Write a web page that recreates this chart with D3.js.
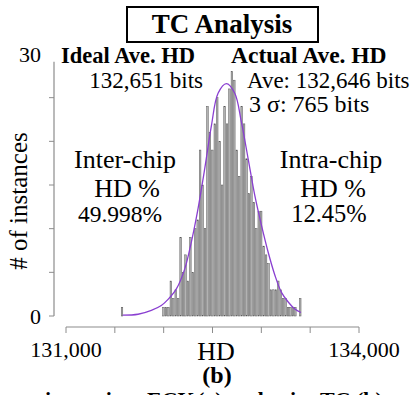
<!DOCTYPE html>
<html>
<head>
<meta charset="utf-8">
<script src="https://cdn.jsdelivr.net/npm/d3@7"></script>
<style>
  body { margin: 0; background: #fff; }
  svg { display: block; font-family: "Liberation Serif", "Times New Roman", serif; }
</style>
</head>
<body>
<svg id="chart" width="415" height="395"></svg>
<script>
// histogram: 25-bit bins, first bin centred on 131,575
const binStart = 131562.5
const binWidth = 25
const counts = [
  1, 0, 0, 0, 0, 0, 0, 0, 0, 0, 0, 0, 0, 0, 0, 0, 0,
  1, 1, 1, 4, 2, 3, 2, 9, 5, 7, 4, 9, 5, 10, 11, 19, 15, 10,
  24, 21, 19, 22, 25, 20, 15, 24, 22, 26, 28, 27, 19, 16, 24, 22,
  18, 14, 16, 13, 10, 12, 12, 8, 7, 6, 3, 3, 3, 4, 3, 2, 2,
  1, 1, 1, 1, 0, 2
]

// fitted curve
const fitHD = [131581, 131738, 131874, 131976, 132045, 132130, 132216, 132284,
  132352, 132421, 132489, 132557, 132642, 132728, 132796, 132865, 132933,
  133001, 133070, 133138, 133206, 133275, 133343, 133405]
const fitCount = [0.1, 0.2, 0.65, 1.2, 1.9, 3.1, 5.4, 8.5, 12.3, 16.9, 21.8,
  25.5, 26.6, 25.5, 22.2, 18, 13.8, 10.4, 7.3, 4.7, 2.7, 1.6, 0.8, 0.4]

const xTicks = [131000, 131500, 132000, 132500, 133000, 133500, 134000]
const yTicks = [0, 5, 10, 15, 20, 25]

const svg = d3.select('#chart')

const x = d3.scaleLinear().domain([131000, 134000]).range([66, 359])
const y = d3.scaleLinear().domain([0, 30]).range([316, 54])

// title box
svg.append('rect')
  .attr('x', 127).attr('y', 7).attr('width', 191).attr('height', 35)
  .attr('fill', 'none').attr('stroke', '#000').attr('stroke-width', 2)
svg.append('text')
  .attr('x', 222).attr('y', 33)
  .attr('text-anchor', 'middle')
  .attr('font-size', 27).attr('font-weight', 'bold')
  .text('TC Analysis')

// bars
svg.append('g')
  .selectAll('rect')
  .data(counts.map((c, i) => ({ x0: binStart + i * binWidth, c })).filter(d => d.c > 0))
  .enter()
  .append('rect')
  .attr('x', d => x(d.x0) + 0.3)
  .attr('width', d => x(d.x0 + binWidth) - x(d.x0) - 0.9)
  .attr('y', d => y(d.c))
  .attr('height', d => y(0) - y(d.c))
  .attr('fill', '#b4b4b4')
  .attr('stroke', '#555')
  .attr('stroke-width', 0.5)

// fit curve
const line = d3.line()
  .x(d => x(d[0]))
  .y(d => y(d[1]))
  .curve(d3.curveCatmullRom)

svg.append('path')
  .datum(fitHD.map((h, i) => [h, fitCount[i]]))
  .attr('d', line)
  .attr('fill', 'none')
  .attr('stroke', '#8a3fd1')
  .attr('stroke-width', 1.3)

// y axis
const yAxis = svg.append('g')
yAxis.append('line')
  .attr('x1', 54).attr('x2', 54)
  .attr('y1', y(29.1)).attr('y2', y(0))
  .attr('stroke', '#8c8c8c').attr('stroke-width', 1.2)
yAxis.selectAll('.tick')
  .data(yTicks)
  .enter()
  .append('line')
  .attr('x1', 49).attr('x2', 54)
  .attr('y1', d => y(d)).attr('y2', d => y(d))
  .attr('stroke', '#8c8c8c').attr('stroke-width', 1)
yAxis.append('text')
  .attr('x', 41).attr('y', y(30) + 8)
  .attr('text-anchor', 'end').attr('font-size', 22)
  .text('30')
yAxis.append('text')
  .attr('x', 41).attr('y', y(0) + 8)
  .attr('text-anchor', 'end').attr('font-size', 22)
  .text('0')
svg.append('text')
  .attr('transform', 'translate(27,201) rotate(-90)')
  .attr('text-anchor', 'middle').attr('font-size', 25)
  .text('# of instances')

// x axis
const xAxis = svg.append('g').attr('transform', 'translate(0,327)')
xAxis.append('line')
  .attr('x1', x(131000)).attr('x2', x(134000))
  .attr('stroke', '#8c8c8c').attr('stroke-width', 1.2)
xAxis.selectAll('.tick')
  .data(xTicks)
  .enter()
  .append('line')
  .attr('x1', d => x(d)).attr('x2', d => x(d))
  .attr('y1', 0).attr('y2', 6)
  .attr('stroke', '#8c8c8c').attr('stroke-width', 1)
const fmt = d3.format(',')
xAxis.append('text')
  .attr('x', x(131000)).attr('y', 30)
  .attr('text-anchor', 'middle').attr('font-size', 22)
  .text(fmt(131000))
xAxis.append('text')
  .attr('x', x(134000) + 5).attr('y', 30)
  .attr('text-anchor', 'middle').attr('font-size', 22)
  .text(fmt(134000))
svg.append('text')
  .attr('x', 216).attr('y', 360)
  .attr('text-anchor', 'middle').attr('font-size', 26)
  .text('HD')
svg.append('text')
  .attr('x', 217).attr('y', 383)
  .attr('text-anchor', 'middle').attr('font-size', 24).attr('font-weight', 'bold')
  .text('(b)')

// annotations
const note = (tx, ty, str, size, anchor, bold) =>
  svg.append('text')
    .attr('x', tx).attr('y', ty)
    .attr('text-anchor', anchor)
    .attr('font-size', size)
    .attr('font-weight', bold ? 'bold' : 'normal')
    .text(str)

note(61, 63, 'Ideal Ave. HD', 22.5, 'start', true)
note(203, 88, '132,651 bits', 23, 'end', false)
note(231, 63, 'Actual Ave. HD', 23.5, 'start', true)
note(247, 88, 'Ave: 132,646 bits', 23, 'start', false)
note(249, 112, '3 σ: 765 bits', 24, 'start', false)

note(125, 168, 'Inter-chip', 26, 'middle', false)
note(127, 197, 'HD %', 26, 'middle', false)
note(120, 222, '49.998%', 23.5, 'middle', false)

note(331, 168, 'Intra-chip', 26, 'middle', false)
note(333, 197, 'HD %', 26, 'middle', false)
note(329, 222, '12.45%', 24.5, 'middle', false)

// caption line cut by the frame
note(135, 407, 'fingerprints using', 22, 'end', true)
note(147, 407, 'ECK', 22, 'start', true)
note(197, 407, '(a) and using', 22, 'start', true)
note(320, 407, 'TC', 22, 'start', true)
note(356, 407, '(b).', 22, 'start', true)
</script>
</body>
</html>
